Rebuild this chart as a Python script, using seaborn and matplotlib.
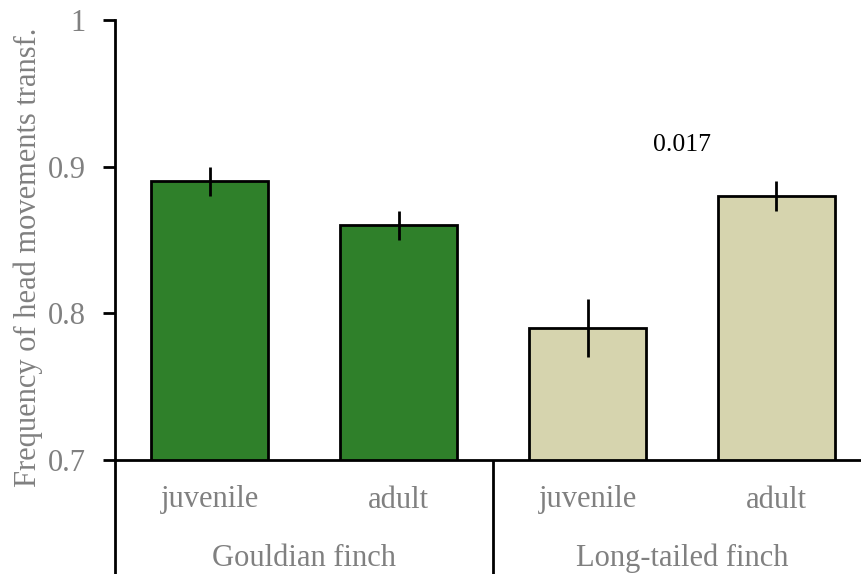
import matplotlib
matplotlib.use("Agg")
import matplotlib.pyplot as plt
import seaborn as sns
import pandas as pd

# Data
species = ["Gouldian finch", "Gouldian finch", "Long-tailed finch", "Long-tailed finch"]
ages = ["juvenile", "adult", "juvenile", "adult"]
means = [0.89, 0.86, 0.79, 0.88]
errors = [0.01, 0.01, 0.02, 0.01]
bar_colors = ["#2f802a", "#2f802a", "#d6d4ae", "#d6d4ae"]
y_ticks = [0.7, 0.8, 0.9, 1.0]
y_tick_labels = ["0.7", "0.8", "0.9", "1"]
p_label = "0.017"
p_label_y = 0.915

sns.set_style("white")
plt.rcParams["font.family"] = ["Liberation Serif", "DejaVu Serif"]

W, H = 861, 574
fig = plt.figure(figsize=(W / 100, H / 100), dpi=100)
# axes spans x 115..871 px, y 20..460 px
ax = fig.add_axes([115 / W, (H - 460) / H, 756 / W, 440 / H])

df = pd.DataFrame({
    "group": [f"{s} {a}" for s, a in zip(species, ages)],
    "mean": means,
})
sns.barplot(data=df, x="group", y="mean", hue="group", palette=bar_colors,
            legend=False, width=117 / 189, edgecolor="black", linewidth=2,
            saturation=1, ax=ax, errorbar=None)

ax.errorbar(range(len(means)), means, yerr=errors, fmt="none",
            ecolor="black", elinewidth=2, capsize=0)

ax.set_ylim(0.7, 1.0)
ax.set_xlim(-0.5, 3.5)
ax.set_yticks(y_ticks)
ax.set_yticklabels(y_tick_labels)
ax.tick_params(axis="y", direction="out", length=9, width=2, color="black",
               labelsize=22, labelcolor="#808080", pad=12, left=True)
ax.set_xticks([])
ax.set_xlabel("")
ax.set_ylabel("")
fig.text(28 / W, 1 - 257 / H, "Frequency of head movements transf.",
         rotation=90, ha="center", va="center", fontsize=22, color="#808080")

for side in ["top", "right"]:
    ax.spines[side].set_visible(False)
for side in ["left", "bottom"]:
    ax.spines[side].set_linewidth(2)
    ax.spines[side].set_color("black")

trans = ax.get_xaxis_transform()
# category labels below the axis
for i, a in enumerate(ages):
    ax.text(i, -40 / 440, a, transform=trans, ha="center", va="center",
            fontsize=22, color="#808080")
# species group labels
for center, name in [(0.5, "Gouldian finch"), (2.5, "Long-tailed finch")]:
    ax.text(center, -98 / 440, name, transform=trans, ha="center", va="center",
            fontsize=22, color="#808080")
# left spine extension and group divider
ax.plot([-0.5, -0.5], [0, -114 / 440], transform=trans, color="black",
        lw=2, clip_on=False, solid_capstyle="butt")
ax.plot([1.5, 1.5], [0, -114 / 440], transform=trans, color="black",
        lw=2, clip_on=False, solid_capstyle="butt")

ax.text(2.5, p_label_y, p_label, ha="center", va="center", fontsize=18.5,
        color="black")

fig.savefig("out.png", dpi=100)
